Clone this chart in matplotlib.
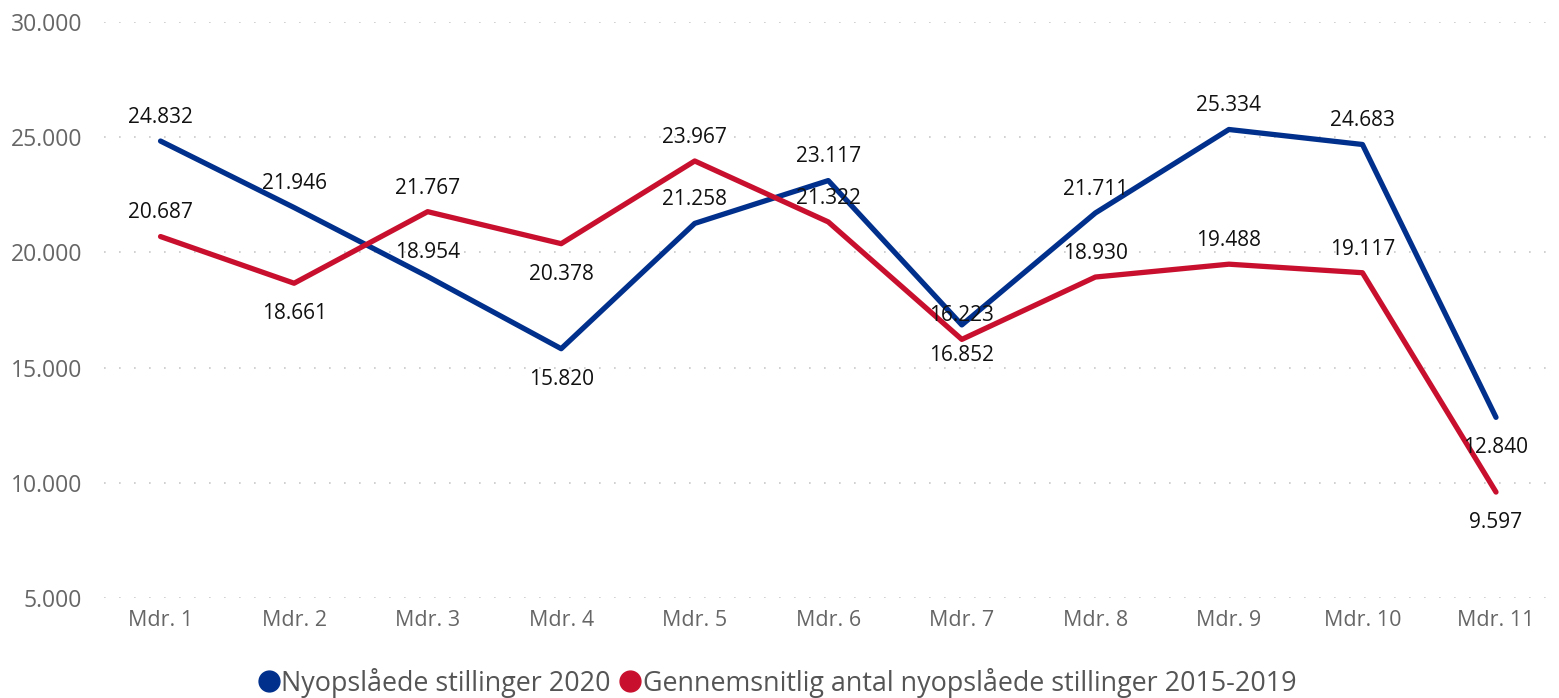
import matplotlib.pyplot as plt
from matplotlib.lines import Line2D

months = ["Mdr. 1", "Mdr. 2", "Mdr. 3", "Mdr. 4", "Mdr. 5", "Mdr. 6",
          "Mdr. 7", "Mdr. 8", "Mdr. 9", "Mdr. 10", "Mdr. 11"]
jobs_2020 = [24832, 21946, 18954, 15820, 21258, 23117, 16852, 21711, 25334, 24683, 12840]
jobs_avg = [20687, 18661, 21767, 20378, 23967, 21322, 16223, 18930, 19488, 19117, 9597]
y_ticks = [5000, 10000, 15000, 20000, 25000, 30000]

# label placement per point: 1 = above, -1 = below
place_2020 = [1, 1, 1, -1, 1, 1, -1, 1, 1, 1, -1]
place_avg = [1, -1, 1, -1, 1, 1, 1, 1, 1, 1, -1]

BLUE = "#00308C"
RED = "#C8102E"

plt.rcParams["font.family"] = ["Open Sans", "DejaVu Sans"]


def fmt(v):
    return f"{v:,}".replace(",", ".")


fig = plt.figure(figsize=(15.59, 6.98), dpi=100)
ax = fig.add_axes([0.067, 0.1433, 0.926, 0.8252])

x = list(range(len(months)))
ax.plot(x, jobs_2020, color=BLUE, lw=3.8, solid_capstyle="round", zorder=3)
ax.plot(x, jobs_avg, color=RED, lw=3.8, solid_capstyle="round", zorder=3)

for series, places in ((jobs_2020, place_2020), (jobs_avg, place_avg)):
    for xi, v, p in zip(x, series, places):
        dy = 17 if p > 0 else -22
        ax.annotate(fmt(v), (xi, v), xytext=(0, dy), textcoords="offset points",
                    ha="center", va="center", fontsize=15, color="#111111", zorder=4)

ax.set_ylim(5000, 30000)
ax.set_xlim(-0.42, 10.39)
ax.set_yticks(y_ticks)
ax.set_yticklabels([fmt(t) for t in y_ticks])
ax.set_xticks(x)
ax.set_xticklabels(months)
ax.tick_params(axis="y", length=0, labelsize=16.5, colors="#666666", pad=16)
ax.tick_params(axis="x", length=0, labelsize=15.5, colors="#666666", pad=9)
ax.grid(axis="y", color="#c8c8c8", linestyle=(0, (1, 8)), lw=1.2)
ax.grid(axis="x", visible=False)
for s in ax.spines.values():
    s.set_visible(False)

handles = [
    Line2D([], [], marker="o", ls="", color=BLUE, markersize=15),
    Line2D([], [], marker="o", ls="", color=RED, markersize=15),
]
fig.legend(handles, ["Nyopslåede stillinger 2020",
                     "Gennemsnitlig antal nyopslåede stillinger 2015-2019"],
           loc="center", bbox_to_anchor=(0.498, 0.022), ncol=2, frameon=False,
           fontsize=19.4, labelcolor="#555555", handletextpad=0.0,
           columnspacing=0.3, handlelength=0.9)

fig.savefig("out.png", dpi=100)
